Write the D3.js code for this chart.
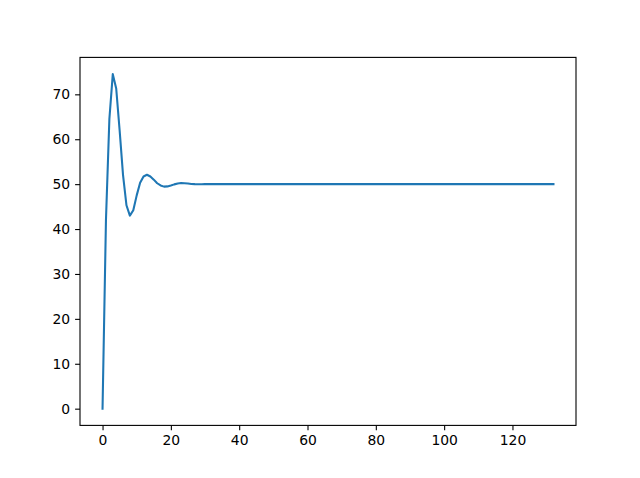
<!DOCTYPE html>
<html>
<head>
<meta charset="utf-8">
<script src="https://cdn.jsdelivr.net/npm/d3@7"></script>
<style>
  body { margin: 0; background: #fff; }
  svg text { font-family: "DejaVu Sans", sans-serif; font-size: 13.9px; fill: #000; }
</style>
</head>
<body>
<div id="chart"></div>
<script>
// step response samples (t = 0, 1, 2, ...)
const earlyValues = [0, 42, 64.5, 74.5, 71.3, 62, 52, 45.3, 43, 44.2, 47.5, 50.3, 51.7, 52.1, 51.7,
  51, 50.2, 49.7, 49.45, 49.5, 49.7, 49.95, 50.15, 50.25, 50.2, 50.15, 50.05, 50, 49.97, 49.97, 50];
const lastT = 132;
const steadyValue = 50;
const xTicks = [0, 20, 40, 60, 80, 100, 120];
const yTicks = [0, 10, 20, 30, 40, 50, 60, 70];

// remaining samples sit on the steady level
const values = earlyValues.concat(new Array(lastT + 1 - earlyValues.length).fill(steadyValue));
const data = values.map((v, i) => ({ t: i, v: v }));

const width = 640, height = 478;
const margin = { top: 57.4, right: 64, bottom: 52.6, left: 80 };

const svg = d3.select("#chart").append("svg")
  .attr("width", width)
  .attr("height", height);

// matplotlib-like 5% padding around the data
function padded(ext) {
  const p = (ext[1] - ext[0]) * 0.05;
  return [ext[0] - p, ext[1] + p];
}

const x = d3.scaleLinear()
  .domain(padded(d3.extent(data, d => d.t)))
  .range([margin.left, width - margin.right]);
const y = d3.scaleLinear()
  .domain(padded(d3.extent(data, d => d.v)))
  .range([height - margin.bottom, margin.top]);

const line = d3.line()
  .x(d => x(d.t))
  .y(d => y(d.v));

svg.append("path")
  .datum(data)
  .attr("fill", "none")
  .attr("stroke", "#1f77b4")
  .attr("stroke-width", 2.08)
  .attr("stroke-linejoin", "round")
  .attr("stroke-linecap", "square")
  .attr("d", line);

// axes
const xAxis = svg.append("g")
  .attr("transform", `translate(0,${height - margin.bottom})`)
  .call(d3.axisBottom(x).tickValues(xTicks).tickSize(4.9).tickPadding(4.9).tickFormat(d3.format("d")));
const yAxis = svg.append("g")
  .attr("transform", `translate(${margin.left},0)`)
  .call(d3.axisLeft(y).tickValues(yTicks).tickSize(4.9).tickPadding(4.9).tickFormat(d3.format("d")));

[xAxis, yAxis].forEach(a => {
  a.select(".domain").remove();
  a.selectAll("line").attr("stroke", "#000").attr("stroke-width", 1.1);
  a.selectAll("text").attr("font-family", "DejaVu Sans, sans-serif").attr("font-size", 13.9).attr("fill", "#000");
});

// frame
svg.append("rect")
  .attr("x", margin.left)
  .attr("y", margin.top)
  .attr("width", width - margin.left - margin.right)
  .attr("height", height - margin.top - margin.bottom)
  .attr("fill", "none")
  .attr("stroke", "#000")
  .attr("stroke-width", 1.1);
</script>
</body>
</html>
